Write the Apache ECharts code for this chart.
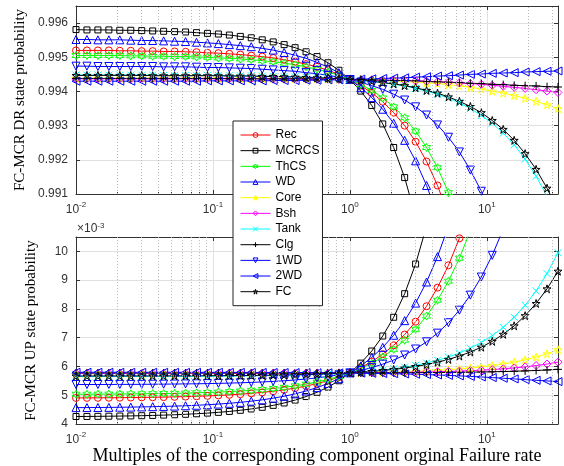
<!DOCTYPE html>
<html>
<head>
<meta charset="utf-8">
<script src="https://cdn.jsdelivr.net/npm/echarts@6/dist/echarts.min.js"></script>
<style>
  html, body { margin: 0; padding: 0; background: #fff; }
  #chart { width: 564px; height: 466px; }
</style>
</head>
<body>
<div id="chart"></div>
<script>
// multiples of the original failure rate (sample points of the curves)
const multiples = [0.01, 0.01202, 0.01445, 0.01738, 0.02089, 0.02512, 0.0302, 0.03631, 0.04365, 0.05248,
  0.0631, 0.07586, 0.0912, 0.1096, 0.1318, 0.1585, 0.1905, 0.2291, 0.2754, 0.3311,
  0.3981, 0.4786, 0.5754, 0.6918, 0.8318, 1, 1.202, 1.445, 1.738, 2.089,
  2.512, 3.02, 3.631, 4.365, 5.248, 6.31, 7.586, 9.12, 10.96, 13.18,
  15.85, 19.05, 22.91, 27.54, 33.11];

const seriesNames = ['Rec', 'MCRCS', 'ThCS', 'WD', 'Core', 'Bsh', 'Tank', 'Clg', '1WD', '2WD', 'FC'];

// FC-MCR DR state probability
const drRec = [0.99520, 0.99520, 0.99520, 0.99520, 0.99519, 0.99519, 0.99518, 0.99518, 0.99517, 0.99517,
  0.99516, 0.99515, 0.99513, 0.99512, 0.99510, 0.99508, 0.99505, 0.99502, 0.99498, 0.99493,
  0.99487, 0.99480, 0.99472, 0.99462, 0.99450, 0.99435, 0.99417, 0.99396, 0.99370, 0.99338,
  0.99300, 0.99253, 0.99195, 0.99125, 0.99038];
const drMCRCS = [0.99581, 0.99580, 0.99580, 0.99580, 0.99579, 0.99579, 0.99578, 0.99577, 0.99576, 0.99575,
  0.99574, 0.99572, 0.99570, 0.99568, 0.99565, 0.99561, 0.99557, 0.99551, 0.99545, 0.99537,
  0.99528, 0.99516, 0.99502, 0.99484, 0.99462, 0.99435, 0.99401, 0.99359, 0.99305, 0.99236,
  0.99148, 0.99034];
const drThCS = [0.99505, 0.99505, 0.99505, 0.99505, 0.99505, 0.99504, 0.99504, 0.99503, 0.99503, 0.99502,
  0.99502, 0.99501, 0.99500, 0.99498, 0.99497, 0.99495, 0.99493, 0.99490, 0.99487, 0.99483,
  0.99478, 0.99472, 0.99465, 0.99457, 0.99447, 0.99435, 0.99420, 0.99403, 0.99381, 0.99355,
  0.99323, 0.99284, 0.99236, 0.99177, 0.99104, 0.99014];
const drWD = [0.99552, 0.99552, 0.99551, 0.99551, 0.99551, 0.99550, 0.99549, 0.99549, 0.99548, 0.99547,
  0.99546, 0.99544, 0.99542, 0.99540, 0.99537, 0.99534, 0.99531, 0.99526, 0.99521, 0.99514,
  0.99506, 0.99497, 0.99485, 0.99471, 0.99455, 0.99435, 0.99411, 0.99382, 0.99348, 0.99307,
  0.99257, 0.99197, 0.99125, 0.99038];
const drCore = [0.99439, 0.99439, 0.99439, 0.99439, 0.99439, 0.99439, 0.99439, 0.99439, 0.99439, 0.99439,
  0.99439, 0.99439, 0.99439, 0.99438, 0.99438, 0.99438, 0.99438, 0.99438, 0.99438, 0.99438,
  0.99437, 0.99437, 0.99437, 0.99436, 0.99436, 0.99435, 0.99434, 0.99433, 0.99432, 0.99431,
  0.99429, 0.99427, 0.99425, 0.99423, 0.99420, 0.99416, 0.99412, 0.99407, 0.99401, 0.99395,
  0.99388, 0.99380, 0.99371, 0.99361, 0.99350];
const drBsh = [0.99437, 0.99437, 0.99437, 0.99437, 0.99437, 0.99437, 0.99437, 0.99437, 0.99437, 0.99437,
  0.99437, 0.99437, 0.99437, 0.99437, 0.99437, 0.99437, 0.99437, 0.99437, 0.99436, 0.99436,
  0.99436, 0.99436, 0.99436, 0.99436, 0.99435, 0.99435, 0.99434, 0.99434, 0.99433, 0.99433,
  0.99432, 0.99431, 0.99430, 0.99428, 0.99427, 0.99425, 0.99423, 0.99421, 0.99418, 0.99415,
  0.99412, 0.99409, 0.99405, 0.99401, 0.99397];
const drTank = [0.99448, 0.99448, 0.99448, 0.99448, 0.99448, 0.99448, 0.99448, 0.99448, 0.99447, 0.99447,
  0.99447, 0.99447, 0.99447, 0.99447, 0.99446, 0.99446, 0.99446, 0.99445, 0.99444, 0.99444,
  0.99443, 0.99442, 0.99441, 0.99439, 0.99437, 0.99435, 0.99432, 0.99429, 0.99426, 0.99421,
  0.99416, 0.99409, 0.99401, 0.99392, 0.99380, 0.99367, 0.99350, 0.99330, 0.99307, 0.99278,
  0.99244, 0.99202, 0.99152, 0.99093, 0.99021];
const drClg = [0.99438, 0.99438, 0.99438, 0.99438, 0.99438, 0.99438, 0.99438, 0.99438, 0.99438, 0.99438,
  0.99438, 0.99438, 0.99438, 0.99438, 0.99438, 0.99437, 0.99437, 0.99437, 0.99437, 0.99437,
  0.99437, 0.99437, 0.99436, 0.99436, 0.99436, 0.99435, 0.99435, 0.99434, 0.99433, 0.99432,
  0.99432, 0.99431, 0.99429, 0.99428, 0.99427, 0.99426, 0.99424, 0.99423, 0.99421, 0.99420,
  0.99418, 0.99417, 0.99416, 0.99414, 0.99413];
const dr1WD = [0.99474, 0.99474, 0.99473, 0.99473, 0.99473, 0.99473, 0.99473, 0.99473, 0.99472, 0.99472,
  0.99472, 0.99471, 0.99470, 0.99470, 0.99469, 0.99468, 0.99467, 0.99465, 0.99463, 0.99461,
  0.99459, 0.99455, 0.99452, 0.99447, 0.99442, 0.99435, 0.99427, 0.99417, 0.99406, 0.99392,
  0.99375, 0.99355, 0.99331, 0.99302, 0.99266, 0.99223, 0.99170, 0.99108, 0.99030];
const dr2WD = [0.99430, 0.99430, 0.99430, 0.99430, 0.99430, 0.99430, 0.99430, 0.99430, 0.99430, 0.99430,
  0.99430, 0.99430, 0.99431, 0.99431, 0.99431, 0.99431, 0.99431, 0.99431, 0.99432, 0.99432,
  0.99432, 0.99433, 0.99433, 0.99434, 0.99434, 0.99435, 0.99436, 0.99437, 0.99438, 0.99439,
  0.99440, 0.99442, 0.99443, 0.99445, 0.99446, 0.99448, 0.99450, 0.99451, 0.99453, 0.99454,
  0.99455, 0.99457, 0.99458, 0.99459, 0.99460];
const drFC = [0.99447, 0.99447, 0.99447, 0.99447, 0.99447, 0.99447, 0.99447, 0.99446, 0.99446, 0.99446,
  0.99446, 0.99446, 0.99446, 0.99446, 0.99445, 0.99445, 0.99445, 0.99444, 0.99444, 0.99443,
  0.99442, 0.99441, 0.99440, 0.99439, 0.99437, 0.99435, 0.99433, 0.99430, 0.99426, 0.99422,
  0.99417, 0.99411, 0.99403, 0.99395, 0.99384, 0.99371, 0.99356, 0.99338, 0.99315, 0.99289,
  0.99257, 0.99218, 0.99172, 0.99117, 0.99050];

// FC-MCR UP state probability, in units of 1e-3
const upRec = [4.909, 4.911, 4.913, 4.915, 4.918, 4.922, 4.927, 4.932, 4.938, 4.946,
  4.956, 4.967, 4.980, 4.997, 5.016, 5.039, 5.068, 5.102, 5.142, 5.191,
  5.250, 5.321, 5.406, 5.509, 5.632, 5.780, 5.958, 6.172, 6.429, 6.738,
  7.111, 7.558, 8.095, 8.741, 9.518, 10.453, 11.576];
const upMCRCS = [4.264, 4.266, 4.270, 4.274, 4.279, 4.285, 4.292, 4.301, 4.312, 4.325,
  4.340, 4.359, 4.382, 4.408, 4.440, 4.479, 4.526, 4.583, 4.651, 4.734,
  4.835, 4.957, 5.105, 5.285, 5.505, 5.780, 6.118, 6.538, 7.060, 7.712,
  8.530, 9.560, 10.880];
const upThCS = [5.038, 5.039, 5.041, 5.043, 5.046, 5.049, 5.053, 5.057, 5.063, 5.069,
  5.077, 5.087, 5.098, 5.112, 5.129, 5.149, 5.173, 5.202, 5.237, 5.278,
  5.329, 5.389, 5.462, 5.549, 5.654, 5.780, 5.932, 6.114, 6.334, 6.597,
  6.914, 7.295, 7.753, 8.304, 8.966, 9.763, 10.720];
const upWD = [4.572, 4.574, 4.577, 4.581, 4.585, 4.590, 4.597, 4.605, 4.614, 4.625,
  4.638, 4.654, 4.673, 4.696, 4.723, 4.756, 4.796, 4.843, 4.900, 4.968,
  5.051, 5.149, 5.267, 5.409, 5.577, 5.780, 6.022, 6.314, 6.666, 7.087,
  7.594, 8.204, 8.937, 9.818, 10.878];
const upCore = [5.755, 5.755, 5.755, 5.755, 5.756, 5.756, 5.756, 5.756, 5.756, 5.756,
  5.757, 5.757, 5.757, 5.758, 5.758, 5.759, 5.760, 5.761, 5.762, 5.763,
  5.765, 5.767, 5.769, 5.772, 5.776, 5.780, 5.785, 5.791, 5.798, 5.807,
  5.818, 5.831, 5.846, 5.864, 5.886, 5.913, 5.945, 5.983, 6.029, 6.085,
  6.151, 6.231, 6.328, 6.444, 6.583];
const upBsh = [5.768, 5.768, 5.768, 5.768, 5.768, 5.768, 5.768, 5.768, 5.768, 5.769,
  5.769, 5.769, 5.769, 5.769, 5.769, 5.770, 5.770, 5.770, 5.771, 5.772,
  5.773, 5.774, 5.775, 5.776, 5.778, 5.780, 5.782, 5.785, 5.788, 5.792,
  5.797, 5.803, 5.810, 5.819, 5.829, 5.841, 5.856, 5.874, 5.895, 5.921,
  5.952, 5.989, 6.034, 6.087, 6.152];
const upTank = [5.651, 5.652, 5.652, 5.652, 5.653, 5.653, 5.654, 5.655, 5.656, 5.657,
  5.658, 5.660, 5.662, 5.664, 5.667, 5.671, 5.675, 5.680, 5.686, 5.693,
  5.702, 5.712, 5.725, 5.740, 5.758, 5.780, 5.806, 5.838, 5.876, 5.922,
  5.977, 6.043, 6.122, 6.217, 6.332, 6.470, 6.636, 6.836, 7.075, 7.363,
  7.711, 8.127, 8.628, 9.230, 9.954];
const upClg = [5.776, 5.776, 5.776, 5.776, 5.776, 5.776, 5.776, 5.776, 5.776, 5.776,
  5.776, 5.776, 5.776, 5.776, 5.776, 5.776, 5.776, 5.776, 5.776, 5.777,
  5.777, 5.777, 5.778, 5.778, 5.778, 5.780, 5.781, 5.781, 5.783, 5.784,
  5.786, 5.787, 5.790, 5.793, 5.796, 5.800, 5.805, 5.811, 5.818, 5.826,
  5.836, 5.848, 5.863, 5.881, 5.902];
const up1WD = [5.374, 5.375, 5.376, 5.377, 5.379, 5.380, 5.382, 5.385, 5.388, 5.392,
  5.396, 5.401, 5.407, 5.415, 5.424, 5.435, 5.448, 5.464, 5.483, 5.506,
  5.533, 5.566, 5.606, 5.654, 5.711, 5.780, 5.863, 5.962, 6.083, 6.226,
  6.400, 6.608, 6.859, 7.160, 7.522, 7.957, 8.480, 9.109, 9.864, 10.774];
const up2WD = [5.800, 5.800, 5.800, 5.800, 5.799, 5.799, 5.799, 5.799, 5.799, 5.799,
  5.798, 5.798, 5.798, 5.797, 5.797, 5.796, 5.795, 5.794, 5.793, 5.792,
  5.790, 5.788, 5.785, 5.783, 5.779, 5.775, 5.771, 5.765, 5.758, 5.751,
  5.742, 5.732, 5.720, 5.707, 5.692, 5.675, 5.657, 5.637, 5.616, 5.593,
  5.570, 5.546, 5.522, 5.499, 5.476];
const upFC = [5.671, 5.671, 5.672, 5.672, 5.672, 5.673, 5.673, 5.674, 5.675, 5.676,
  5.677, 5.678, 5.680, 5.682, 5.684, 5.687, 5.691, 5.695, 5.700, 5.706,
  5.714, 5.723, 5.733, 5.746, 5.761, 5.780, 5.802, 5.829, 5.861, 5.900,
  5.946, 6.002, 6.069, 6.150, 6.247, 6.364, 6.504, 6.673, 6.876, 7.120,
  7.414, 7.766, 8.190, 8.699, 9.312];

// minor (dotted) grid positions of the log axes
const minorGridX = [0.02, 0.03, 0.04, 0.05, 0.06, 0.07, 0.08, 0.09,
  0.2, 0.3, 0.4, 0.5, 0.6, 0.7, 0.8, 0.9,
  2, 3, 4, 5, 6, 7, 8, 9, 20, 30];

const drTable = { Rec: drRec, MCRCS: drMCRCS, ThCS: drThCS, WD: drWD, Core: drCore, Bsh: drBsh,
  Tank: drTank, Clg: drClg, '1WD': dr1WD, '2WD': dr2WD, FC: drFC };
const upTable = { Rec: upRec, MCRCS: upMCRCS, ThCS: upThCS, WD: upWD, Core: upCore, Bsh: upBsh,
  Tank: upTank, Clg: upClg, '1WD': up1WD, '2WD': up2WD, FC: upFC };

// marker shapes like matlab's
const STAR = 'path://M50,2 L61,36 L97,36 L68,57 L79,92 L50,70 L21,92 L32,57 L3,36 L39,36 Z';
const HEXA = 'path://M50,0 L62,26 L93,25 L76,50 L93,75 L62,74 L50,100 L38,74 L7,75 L24,50 L7,25 L38,26 Z';
const XMARK = 'path://M0,0 L10,10 M10,0 L0,10';
const PLUS = 'path://M5,0 L5,10 M0,5 L10,5';

const markers = {
  Rec:   { color: '#ff0000', symbol: 'circle', size: 7 },
  MCRCS: { color: '#000000', symbol: 'rect', size: 6 },
  ThCS:  { color: '#00ff00', symbol: HEXA, size: 8 },
  WD:    { color: '#0000ff', symbol: 'triangle', size: 8 },
  Core:  { color: '#ffff00', symbol: STAR, size: 8 },
  Bsh:   { color: '#ff00ff', symbol: 'diamond', size: 8 },
  Tank:  { color: '#00ffff', symbol: XMARK, size: 7 },
  Clg:   { color: '#000000', symbol: PLUS, size: 8 },
  '1WD': { color: '#0000ff', symbol: 'triangle', size: 8, rotate: 180 },
  '2WD': { color: '#0000ff', symbol: 'triangle', size: 8, rotate: 90 },
  FC:    { color: '#000000', symbol: STAR, size: 8 }
};

const AXIS_COLOR = '#333';
const LABEL_FONT = 'Liberation Sans';
const SERIF = 'Liberation Serif';
const HOLLOW = 'rgba(255,255,255,0)';

function decadeLabel(v) {
  const e = Math.log10(v);
  const r = Math.round(e);
  if (Math.abs(e - r) > 1e-6) return '';
  return '{b|10}{e|' + r + '}';
}

const decadeRich = {
  b: { fontSize: 12, fontFamily: LABEL_FONT, color: AXIS_COLOR, padding: [4, 0, 0, 0] },
  e: { fontSize: 8, fontFamily: LABEL_FONT, color: AXIS_COLOR, padding: [0, 0, 6, 0] }
};

const grids = [
  { left: 76, top: 6, width: 482, height: 188 },
  { left: 76, top: 237, width: 482, height: 189 }
];

const xAxes = [];
const yAxes = [];
const yRanges = [
  { min: 0.991, max: 0.9965, interval: 0.001, digits: 3, name: 'FC-MCR DR state probability' },
  { min: 4, max: 10.5, interval: 1, digits: 0, name: 'FC-MCR UP state probability' }
];

grids.forEach((g, gi) => {
  // main bottom log axis
  xAxes.push({
    type: 'log', logBase: 10, gridIndex: gi, min: 0.01, max: 33.11,
    axisLine: { show: true, lineStyle: { color: AXIS_COLOR, width: 1 } },
    axisTick: { show: true, inside: true, length: 4, lineStyle: { color: AXIS_COLOR } },
    axisLabel: { formatter: decadeLabel, rich: decadeRich, margin: 6, showMaxLabel: false },
    splitLine: { show: true, lineStyle: { color: '#e0e0e0', width: 1 } },
    name: gi === 1 ? 'Multiples of the corresponding component orginal Failure rate' : '',
    nameLocation: 'middle', nameGap: 17,
    nameTextStyle: { fontFamily: SERIF, fontSize: 18, color: '#000' }
  });
  // mirrored top axis
  xAxes.push({
    type: 'log', logBase: 10, gridIndex: gi, min: 0.01, max: 33.11, position: 'top',
    axisLine: { show: true, lineStyle: { color: AXIS_COLOR, width: 1 } },
    axisTick: { show: true, inside: true, length: 4, lineStyle: { color: AXIS_COLOR } },
    axisLabel: { show: false }, splitLine: { show: false }
  });
  // minor ticks
  xAxes.push({
    type: 'log', logBase: 10, gridIndex: gi, min: 0.01, max: 33.11, position: 'bottom',
    axisLine: { show: false },
    axisTick: { show: true, inside: true, length: 2, customValues: minorGridX, lineStyle: { color: AXIS_COLOR } },
    axisLabel: { show: false }, splitLine: { show: false }
  });

  const r = yRanges[gi];
  yAxes.push({
    type: 'value', gridIndex: gi, min: r.min, max: r.max, interval: r.interval,
    axisLine: { show: true, lineStyle: { color: AXIS_COLOR, width: 1 } },
    axisTick: { show: true, inside: true, length: 4, lineStyle: { color: AXIS_COLOR } },
    axisLabel: {
      margin: 8, fontSize: 12, fontFamily: LABEL_FONT, color: AXIS_COLOR,
      formatter: v => {
        const n = v / r.interval;
        if (Math.abs(n - Math.round(n)) > 1e-6) return '';
        return v.toFixed(r.digits);
      }
    },
    splitLine: { show: true, lineStyle: { color: '#e0e0e0', width: 1 } },
    name: r.name, nameLocation: 'middle', nameGap: 37,
    nameTextStyle: { fontFamily: SERIF, fontSize: 15, color: '#000' }
  });
  yAxes.push({
    type: 'value', gridIndex: gi, min: r.min, max: r.max, interval: r.interval, position: 'right',
    axisLine: { show: true, lineStyle: { color: AXIS_COLOR, width: 1 } },
    axisTick: { show: true, inside: true, length: 4, lineStyle: { color: AXIS_COLOR } },
    axisLabel: { show: false }, splitLine: { show: false }
  });
});

const series = [];
grids.forEach((g, gi) => {
  // dotted minor grid
  series.push({
    name: 'minor-grid-' + gi, type: 'line', xAxisIndex: gi * 3, yAxisIndex: gi * 2, data: [],
    markLine: {
      silent: true, symbol: ['none', 'none'], label: { show: false }, animation: false,
      lineStyle: { type: [1, 2], color: '#b8b8b8', width: 1 },
      emphasis: { disabled: true },
      data: minorGridX.map(v => ({ xAxis: v }))
    }
  });
  const table = gi === 0 ? drTable : upTable;
  seriesNames.forEach(name => {
    const m = markers[name];
    const values = table[name];
    series.push({
      name: name, type: 'line', xAxisIndex: gi * 3, yAxisIndex: gi * 2,
      data: values.map((v, i) => [multiples[i], v]),
      symbol: m.symbol, symbolSize: m.size, symbolRotate: m.rotate || 0,
      showAllSymbol: true, clip: true, z: 3,
      lineStyle: { color: m.color, width: 1 },
      itemStyle: { color: HOLLOW, borderColor: m.color, borderWidth: 1 },
      emphasis: { disabled: true }
    });
  });
});

// legend entries with thin lines and small hollow markers
const legendData = seriesNames.map(name => ({
  name: name,
  itemStyle: { color: HOLLOW, borderColor: markers[name].color, borderWidth: 1 },
  lineStyle: { color: markers[name].color, width: 1 }
}));

const chart = echarts.init(document.getElementById('chart'));
chart.setOption({
  animation: false,
  backgroundColor: '#fff',
  grid: grids,
  xAxis: xAxes,
  yAxis: yAxes,
  legend: {
    data: legendData, orient: 'vertical', left: 233, top: 121,
    itemWidth: 30, itemHeight: 6, itemGap: 3.67,
    padding: [8, 3, 8, 7],
    backgroundColor: '#fff', borderColor: '#222', borderWidth: 1,
    itemStyle: { color: HOLLOW, borderWidth: 1 },
    lineStyle: { width: 1 },
    textStyle: { fontSize: 12, fontFamily: LABEL_FONT, color: '#000' },
    selectedMode: false, z: 10
  },
  graphic: [{
    type: 'text', left: 77, top: 222, z: 10,
    style: {
      text: '\u00d710{e|-3}', fill: AXIS_COLOR, font: '12px "Liberation Sans"',
      rich: { e: { fontSize: 8, fontFamily: LABEL_FONT, fill: AXIS_COLOR, padding: [0, 0, 6, 0] } }
    }
  }],
  series: series
});
</script>
</body>
</html>
